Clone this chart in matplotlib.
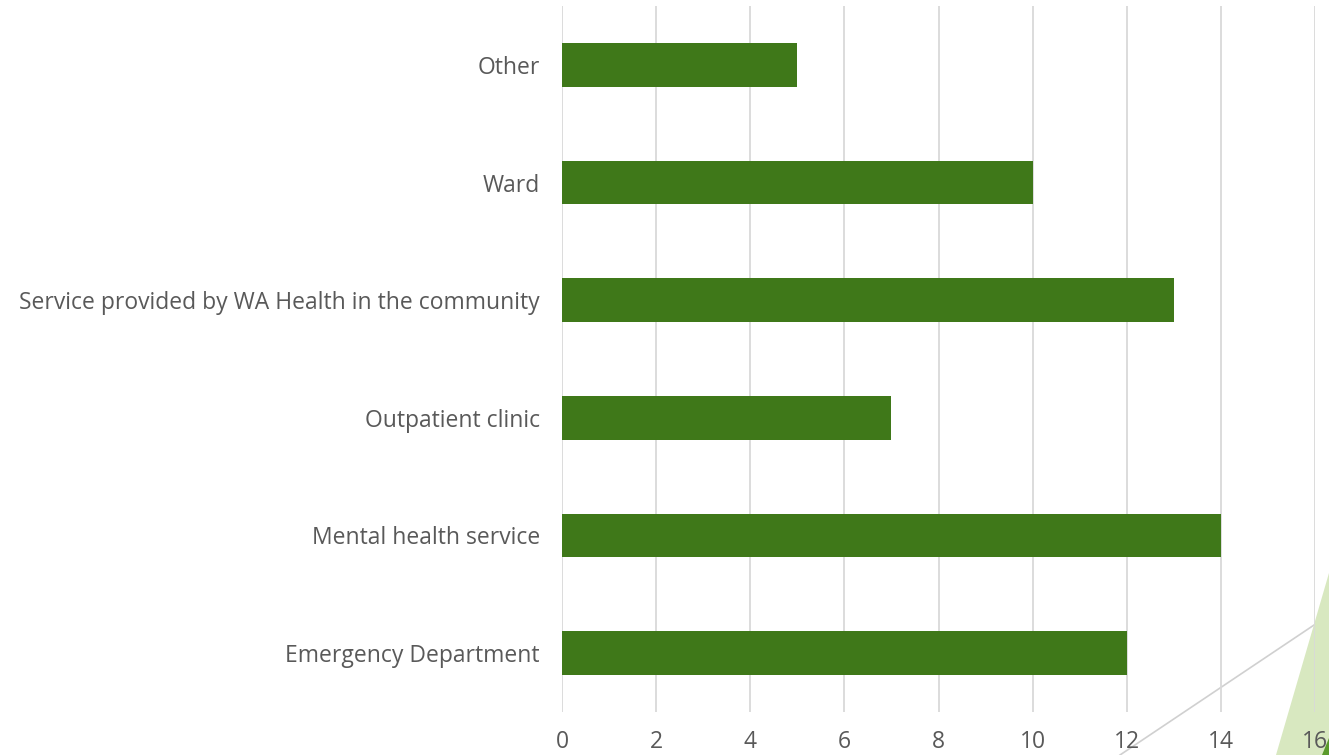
import matplotlib.pyplot as plt
from matplotlib.patches import Polygon
from matplotlib.lines import Line2D

categories = ['Emergency Department', 'Mental health service', 'Outpatient clinic',
              'Service provided by WA Health in the community', 'Ward', 'Other']
values = [12, 14, 7, 13, 10, 5]
x_ticks = [0, 2, 4, 6, 8, 10, 12, 14, 16]

plt.rcParams['font.family'] = ['Open Sans', 'DejaVu Sans']

fig = plt.figure(figsize=(13.29, 7.55), dpi=100)
ax = fig.add_axes([562 / 1329, 43 / 755, 753 / 1329, 706 / 755])
ax.set_facecolor('none')

ax.barh(range(len(categories)), values, height=0.37, color='#3f7819', zorder=3)
ax.set_xlim(0, 16)
ax.set_ylim(-0.5, 5.5)
ax.set_xticks(x_ticks)
ax.set_yticks(range(len(categories)))
ax.set_yticklabels(categories)
ax.grid(axis='x', color='#d9d9d9', linewidth=1.3, zorder=0)
for s in ax.spines.values():
    s.set_visible(False)
ax.tick_params(axis='both', length=0, labelsize=16.5, colors='#595959')
ax.tick_params(axis='y', pad=16)
ax.tick_params(axis='x', pad=13)

# slide decoration in the corner
fig.patches.append(Polygon([(1329 / 1329, 1 - 573 / 755), (1276 / 1329, 0), (1, 0)],
                           closed=True, transform=fig.transFigure,
                           facecolor='#d8e8c0', edgecolor='none', zorder=-1))
fig.patches.append(Polygon([(1, 1 - 738 / 755), (1322 / 1329, 0), (1, 0)],
                           closed=True, transform=fig.transFigure,
                           facecolor='#5a9a2a', edgecolor='none', zorder=-1))
fig.lines.append(Line2D([1120 / 1329, 1], [0, 1 - 615 / 755], transform=fig.transFigure,
                        color='#d0d0d0', linewidth=1.2, zorder=-1))

fig.savefig('out.png', dpi=100)
